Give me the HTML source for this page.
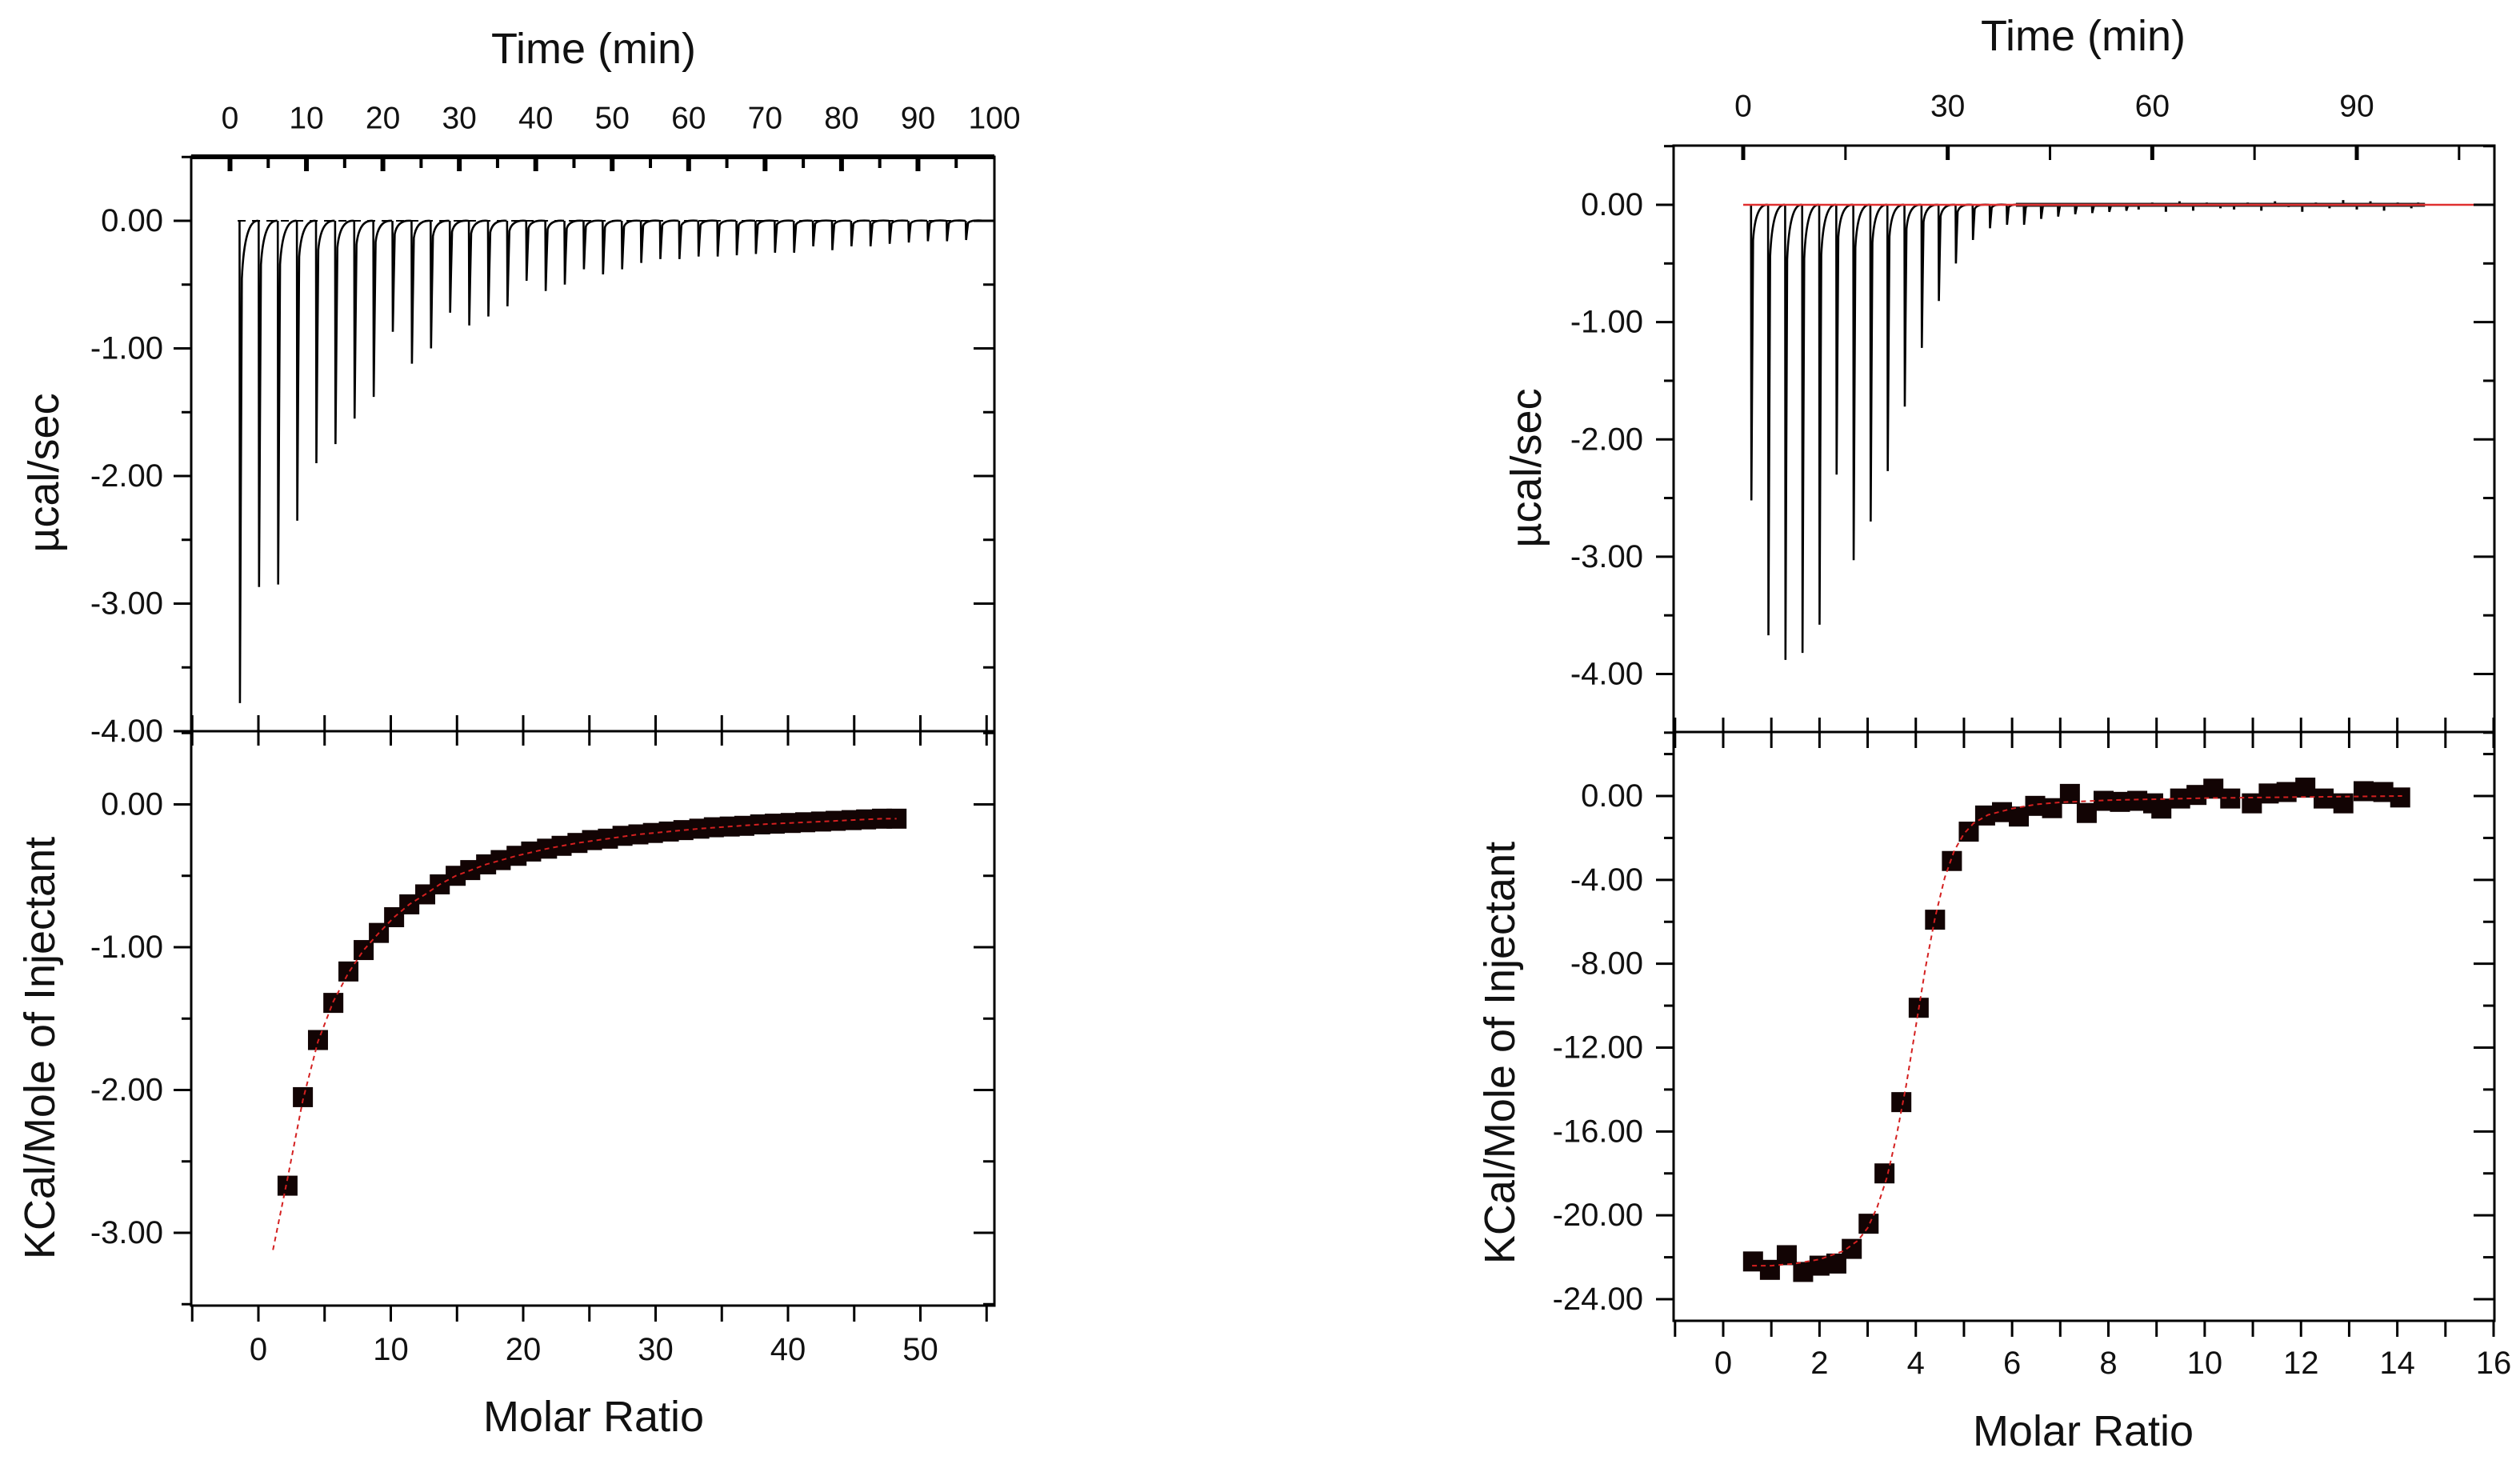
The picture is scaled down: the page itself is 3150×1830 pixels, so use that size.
<!DOCTYPE html>
<html><head><meta charset="utf-8"><style>
html,body{margin:0;padding:0;background:#fff}
svg{display:block}
text{font-family:"Liberation Sans",Arial,sans-serif;fill:#111}
</style></head><body>
<svg id="fig" width="3150" height="1830" viewBox="0 0 3150 1830" xmlns="http://www.w3.org/2000/svg"></svg>
<script>
// ---------- Left: raw thermogram ----------
const leftSpikeTimes=[1.3,3.8,6.3,8.8,11.3,13.8,16.3,18.8,21.3,23.8,26.3,28.8,31.3,33.8,36.3,38.8,41.3,43.8,46.3,48.8,51.3,53.8,56.3,58.8,61.3,63.8,66.3,68.8,71.3,73.8,76.3,78.8,81.3,83.8,86.3,88.8,91.3,93.8,96.3];
const leftSpikeDepths=[-3.78,-2.87,-2.85,-2.35,-1.9,-1.75,-1.55,-1.38,-0.87,-1.12,-1.0,-0.72,-0.82,-0.75,-0.67,-0.47,-0.55,-0.5,-0.38,-0.42,-0.38,-0.33,-0.3,-0.3,-0.28,-0.28,-0.27,-0.26,-0.25,-0.25,-0.2,-0.23,-0.2,-0.2,-0.18,-0.17,-0.16,-0.16,-0.15];
// ---------- Left: integrated heats ----------
const leftMolar=[2.2,3.36,4.5,5.66,6.8,7.95,9.1,10.25,11.4,12.6,13.7,14.9,16.0,17.2,18.3,19.5,20.6,21.8,22.9,24.1,25.2,26.4,27.5,28.7,29.8,31.0,32.1,33.3,34.4,35.6,36.7,37.9,39.0,40.2,41.3,42.5,43.6,44.8,45.9,47.1,48.2];
const leftHeat=[-2.67,-2.05,-1.65,-1.39,-1.17,-1.02,-0.9,-0.79,-0.7,-0.63,-0.56,-0.5,-0.46,-0.42,-0.39,-0.36,-0.33,-0.31,-0.29,-0.27,-0.25,-0.24,-0.22,-0.21,-0.2,-0.19,-0.18,-0.17,-0.16,-0.155,-0.15,-0.14,-0.135,-0.13,-0.125,-0.12,-0.115,-0.11,-0.105,-0.1,-0.1];
const leftFitMolar=[1.1,2.2,3.36,4.5,5.66,6.8,7.95,9.1,10.25,11.4,12.6,13.7,14.9,17.2,19.5,21.8,24.1,26.4,28.7,31.0,33.3,35.6,37.9,40.2,42.5,44.8,47.1,48.2];
const leftFitHeat=[-3.12,-2.62,-2.07,-1.66,-1.38,-1.18,-1.02,-0.9,-0.79,-0.7,-0.63,-0.56,-0.5,-0.42,-0.36,-0.31,-0.27,-0.24,-0.21,-0.19,-0.17,-0.155,-0.14,-0.13,-0.12,-0.11,-0.1,-0.1];
// ---------- Right: raw thermogram ----------
const rightSpikeTimes=[1.2,3.7,6.2,8.7,11.2,13.7,16.2,18.7,21.2,23.7,26.2,28.7,31.2,33.7,36.2,38.7,41.2,43.7,46.2,48.7,51.2,53.7,56.2];
const rightSpikeDepths=[-2.52,-3.67,-3.88,-3.82,-3.58,-2.3,-3.03,-2.7,-2.27,-1.72,-1.22,-0.82,-0.5,-0.3,-0.2,-0.17,-0.17,-0.12,-0.1,-0.08,-0.07,-0.06,-0.05];
const rightNoiseTimes=[58,60,62,64,66,68,70,72,74,76,78,80,82,84,86,88,90,92,94,96,98,99];
const rightNoiseValues=[-0.04,0.02,-0.06,0.03,-0.05,0.02,-0.03,-0.04,0.02,-0.05,0.03,-0.02,-0.06,0.02,-0.03,0.04,-0.04,0.03,-0.05,0.02,-0.03,0.02];
// ---------- Right: integrated heats ----------
const rightMolar=[0.62,0.97,1.32,1.66,2.0,2.35,2.67,3.02,3.35,3.7,4.06,4.4,4.75,5.1,5.44,5.79,6.14,6.48,6.83,7.2,7.55,7.9,8.24,8.6,8.93,9.1,9.49,9.83,10.18,10.53,10.98,11.33,11.7,12.09,12.47,12.88,13.3,13.71,14.06];
const rightHeat=[-22.2,-22.6,-21.9,-22.7,-22.4,-22.3,-21.6,-20.4,-18.0,-14.6,-10.1,-5.9,-3.1,-1.7,-0.93,-0.77,-0.98,-0.47,-0.58,0.1,-0.81,-0.23,-0.28,-0.23,-0.35,-0.6,-0.12,0.05,0.35,-0.12,-0.35,0.12,0.19,0.4,-0.12,-0.35,0.23,0.19,-0.07];
const rightFitMolar=[0.6,1,1.5,2,2.5,2.8,3.0,3.2,3.4,3.6,3.8,4.0,4.2,4.4,4.6,4.8,5.0,5.2,5.5,6,6.5,7,8,9,10,12,14.1];
const rightFitHeat=[-22.4,-22.4,-22.3,-22.1,-21.7,-21.2,-20.6,-19.6,-18.2,-16.2,-13.8,-11.0,-8.2,-5.8,-3.9,-2.6,-1.8,-1.3,-0.9,-0.6,-0.4,-0.3,-0.2,-0.15,-0.1,-0.05,0];

const NS="http://www.w3.org/2000/svg";
const svg=document.getElementById('fig');
function el(tag,attrs,parent,txt){const e=document.createElementNS(NS,tag);for(const k in attrs)e.setAttribute(k,attrs[k]);if(txt!==undefined)e.textContent=txt;(parent||svg).appendChild(e);return e;}
function lin(d0,d1,r0,r1){return v=>r0+(v-d0)*(r1-r0)/(d1-d0);}

function frame(g,L,R,T,B,w){
  const f=el('rect',{x:L,y:T,width:R-L,height:B-T,fill:'none',stroke:'#000','stroke-width':w||3},g);
  
}
function tick(g,x1,y1,x2,y2,w){el('line',{x1:x1,y1:y1,x2:x2,y2:y2,stroke:'#000','stroke-width':w||3},g);}
function label(g,x,y,t,anchor,size,name){
  const e=el('text',{x:x,y:y,'text-anchor':anchor,'dominant-baseline':'central','font-size':size},g,t);
  return e;
}
function vtitle(g,x,y,t,size,name){
  const e=el('text',{x:x,y:y,'text-anchor':'middle','dominant-baseline':'central','font-size':size,transform:'rotate(-90 '+x+' '+y+')'},g,t);
  
}
function yAxis(g,L,R,ys,vmin,vmax,step,labelStep,dec,labelRight,name){
  const k0=Math.ceil(vmin/step-1e-6),k1=Math.floor(vmax/step+1e-6);
  const per=Math.round(labelStep/step);
  for(let k=k0;k<=k1;k++){
    const v=k*step,y=ys(v);
    const major=(((k%per)+per)%per)===0;
    tick(g,L-(major?22:12),y,L,y,3);
    tick(g,R-(major?26:14),y,R,y,3);
    if(major){const s=(Math.abs(v)<1e-9?0:v).toFixed(dec);label(g,labelRight,y,s,'end',40,name);}
  }
}
function spikes(g,xs,ys,times,depths,name){
  let d='';
  for(let i=0;i<times.length;i++){
    const t=times[i],v=depths[i];
    d+='M'+xs(t-0.05)+','+ys(0)+'L'+xs(t)+','+ys(v)+'L'+xs(t+0.12)+','+ys(v*0.55)+'L'+xs(t+0.25)+','+ys(v*0.12)+'Q'+xs(t+0.6)+','+ys(0.01)+' '+xs(t+2.4)+','+ys(0)+' ';
  }
  const p=el('path',{d:d,fill:'none',stroke:'#000','stroke-width':2.6},g);
  
}
function markers(g,xs,ys,mx,my,sz,name){
  for(let i=0;i<mx.length;i++){
    const r=el('rect',{x:xs(mx[i])-sz/2,y:ys(my[i])-sz/2,width:sz,height:sz,fill:'#120404'},g);
    
  }
}
function fit(g,xs,ys,mx,my,name){
  const d=mx.map((m,i)=>(i?'L':'M')+xs(m)+','+ys(my[i])).join('');
  const p=el('path',{d:d,fill:'none',stroke:'#d42020','stroke-width':2,'stroke-dasharray':'6,5'},g);
  
}

// ===== LEFT PANEL =====
(function(){
  const g=el('g',{});
  const L=239,R=1243,T=196,M=914,B=1632;
  const tx=lin(0,100,287.5,1243), ty=lin(0,-4,276,914);
  const mx=lin(0,10,323,488.5), my=lin(0,-1,1005.5,1184);
  spikes(g,tx,ty,leftSpikeTimes,leftSpikeDepths,'left-raw-thermogram');
  const bl=el('line',{x1:tx(1),y1:ty(0),x2:tx(99),y2:ty(0),stroke:'#000','stroke-width':2,'stroke-dasharray':'10,8'},g);
  
  frame(g,L,R,T,M,3);
  tick(g,L,T,R,T,6);
  for(let t=0;t<=95;t+=5){const x=tx(t);tick(g,x,T,x,T+(t%10===0?18:14),t%10===0?6:4);}
  for(let t=0;t<=100;t+=10){label(g,tx(t),148,String(t),'middle',39,'top-time-tick-label');}
  label(g,742,61,'Time (min)','middle',54,'left-time-axis-title');
  yAxis(g,L,R,ty,-4,0.5,0.5,1,2,204,'left-raw-y-tick-label');
  vtitle(g,55,591,'µcal/sec',54,'left-raw-y-axis-title');
  frame(g,L,R,M,B,3);
  for(let m=-5;m<=55;m+=5){const x=mx(m);tick(g,x,M-20,x,M+18,3);tick(g,x,B,x,B+20,3);}
  for(let m=0;m<=50;m+=10){label(g,mx(m),1687,String(m),'middle',40,'left-molar-tick-label');}
  label(g,742,1771,'Molar Ratio','middle',54,'left-molar-axis-title');
  yAxis(g,L,R,my,-3.5,0.5,0.5,1,2,204,'left-heat-y-tick-label');
  vtitle(g,50,1310,'KCal/Mole of Injectant',54,'left-heat-y-axis-title');
  markers(g,mx,my,leftMolar,leftHeat,25,'left-heat-point');
  fit(g,mx,my,leftFitMolar,leftFitHeat,'left-fit-curve');
})();

// ===== RIGHT PANEL =====
(function(){
  const g=el('g',{});
  const L=2092,R=3118,T=182,M=915,B=1651;
  const tx=lin(0,90,2179,2946), ty=lin(0,-4,256,842.5);
  const mx=lin(0,16,2154,3117), my=lin(0,-24,995,1624);
  spikes(g,tx,ty,rightSpikeTimes,rightSpikeDepths,'right-raw-thermogram');
  let nd='';
  for(let i=0;i<rightNoiseTimes.length;i++){nd+='M'+tx(rightNoiseTimes[i])+','+ty(0)+'L'+tx(rightNoiseTimes[i])+','+ty(rightNoiseValues[i])+' ';}
  const np=el('path',{d:nd,stroke:'#000','stroke-width':3,fill:'none'},g);
  
  const nl=el('line',{x1:tx(40),y1:ty(0),x2:tx(100),y2:ty(0),stroke:'#222','stroke-width':5},g);
  
  const rl=el('line',{x1:tx(0),y1:ty(0),x2:R,y2:ty(0),stroke:'#e03030','stroke-width':2.5},g);
  
  frame(g,L,R,T,M,3);
  for(let t=0;t<=105;t+=15){const x=tx(t);tick(g,x,T,x,T+18,t%30===0?5:3);}
  for(let t=0;t<=90;t+=30){label(g,tx(t),133,String(t),'middle',39,'right-time-tick-label');}
  label(g,2604,45,'Time (min)','middle',54,'right-time-axis-title');
  yAxis(g,L,R,ty,-4.5,0.5,0.5,1,2,2054,'right-raw-y-tick-label');
  vtitle(g,1908,585,'µcal/sec',54,'right-raw-y-axis-title');
  frame(g,L,R,M,B,3);
  for(let m=-1;m<=16;m+=1){const x=mx(m);tick(g,x,M-18,x,M+20,3);tick(g,x,B,x,B+20,3);}
  for(let m=0;m<=16;m+=2){label(g,mx(m),1704,String(m),'middle',40,'right-molar-tick-label');}
  label(g,2604,1789,'Molar Ratio','middle',54,'right-molar-axis-title');
  yAxis(g,L,R,my,-25,3,2,4,2,2054,'right-heat-y-tick-label');
  vtitle(g,1875,1316,'KCal/Mole of Injectant',54,'right-heat-y-axis-title');
  markers(g,mx,my,rightMolar,rightHeat,25,'right-heat-point');
  fit(g,mx,my,rightFitMolar,rightFitHeat,'right-fit-curve');
})();
</script>
</body></html>
